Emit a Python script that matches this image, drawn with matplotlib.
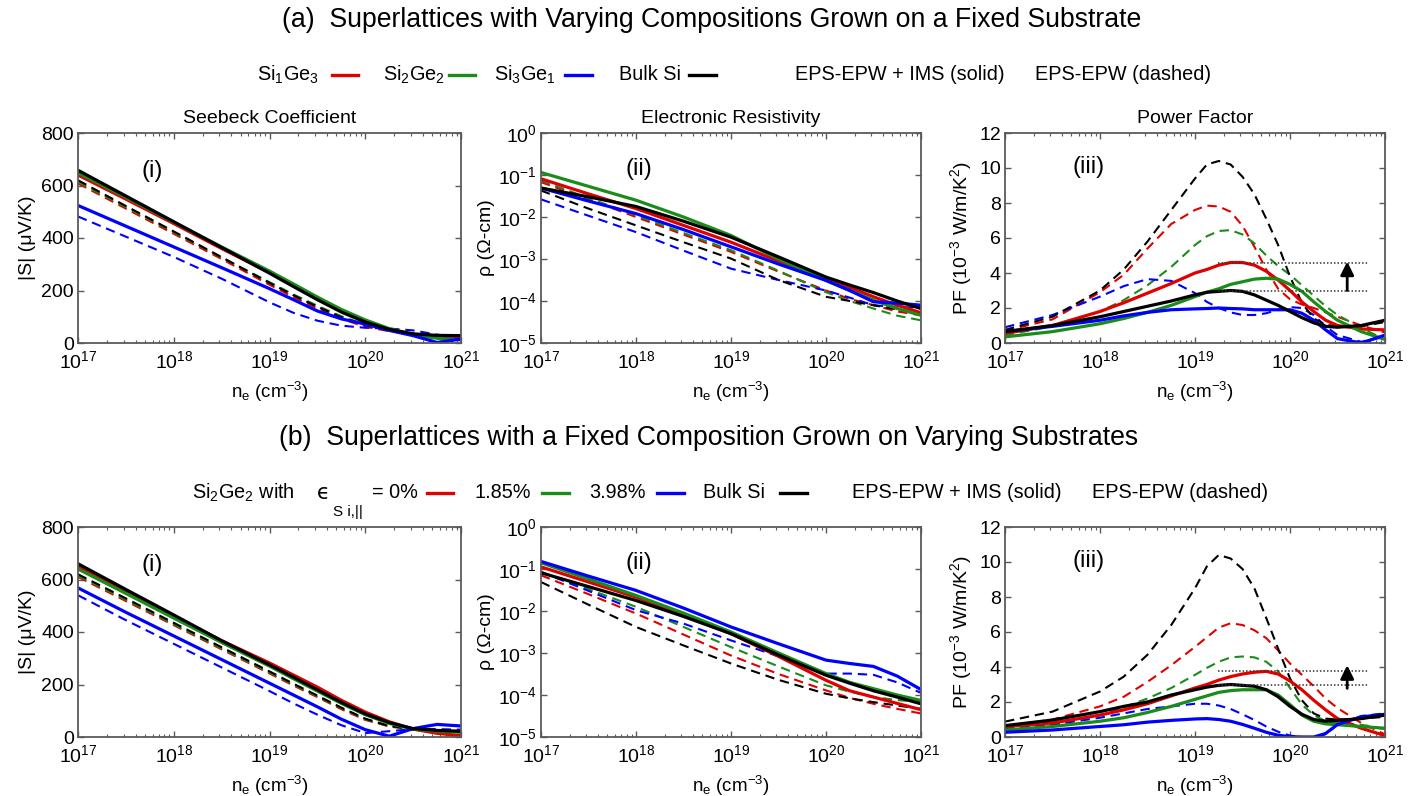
#!/usr/bin/env python

"""
Seebeck coefficient, resistivity and power factor of Si/Ge superlattices
vs electron concentration (EPS-EPW + IMS solid, EPS-EPW dashed)
"""

import numpy as np
import matplotlib.pyplot as plt
from matplotlib.lines import Line2D
from matplotlib.ticker import LogLocator, NullFormatter, NullLocator, MultipleLocator

plt.rcParams['font.family'] = ['Liberation Sans', 'DejaVu Sans']
plt.rcParams['mathtext.fontset'] = 'custom'
plt.rcParams['mathtext.rm'] = 'Liberation Sans'
plt.rcParams['mathtext.it'] = 'Liberation Sans:italic'
plt.rcParams['mathtext.default'] = 'regular'

# log10 of n_e (cm^-3) at which values were read
log_ne_s = [17, 17.5, 18, 18.5, 19, 19.25, 19.5, 19.75, 20, 20.25, 20.5, 20.75, 21]
log_ne_rho = [17, 17.5, 18, 18.5, 19, 19.5, 20, 20.25, 20.5, 20.75, 21]
log_ne_pf = [17, 17.5, 18, 18.25, 18.5, 18.75, 19, 19.125, 19.25, 19.375, 19.5,
             19.625, 19.75, 19.875, 20, 20.125, 20.25, 20.375, 20.5, 20.75, 21]

# series order in every list below: red, green, blue, black
a_labels = ["Si$_1$Ge$_3$", "Si$_2$Ge$_2$", "Si$_3$Ge$_1$", "Bulk Si"]
b_labels = ["= 0%", "1.85%", "3.98%", "Bulk Si"]

# (a) Seebeck |S| (uV/K)
a_seebeck_solid = [
    [640, 548, 455, 360, 268, 218, 168, 122, 82, 50, 32, 22, 18],
    [648, 555, 460, 366, 274, 225, 175, 128, 88, 55, 32, 18, 12],
    [524, 445, 366, 287, 207, 165, 122, 92, 72, 48, 28, 2, 15],
    [658, 560, 462, 364, 266, 215, 165, 118, 80, 52, 35, 29, 28],
]
a_seebeck_dashed = [
    [608, 512, 416, 320, 222, 175, 132, 92, 62, 45, 35, 28, 22],
    [614, 518, 422, 326, 232, 185, 142, 102, 70, 48, 32, 22, 15],
    [482, 405, 328, 245, 155, 115, 85, 66, 58, 55, 48, 32, 20],
    [620, 522, 425, 327, 229, 182, 138, 98, 68, 48, 35, 29, 27],
]

# (a) resistivity, log10(rho / Ohm-cm)
a_log_rho_solid = [
    [-1.09, -1.45, -1.80, -2.20, -2.60, -3.05, -3.45, -3.68, -3.90, -4.10, -4.28],
    [-0.94, -1.27, -1.60, -2.00, -2.44, -3.00, -3.51, -3.75, -3.98, -4.18, -4.34],
    [-1.31, -1.62, -1.92, -2.30, -2.71, -3.12, -3.51, -3.75, -4.02, -4.05, -4.10],
    [-1.31, -1.52, -1.75, -2.10, -2.48, -2.95, -3.43, -3.62, -3.80, -4.00, -4.18],
]
a_log_rho_dashed = [
    [-1.17, -1.58, -2.00, -2.42, -2.83, -3.30, -3.75, -3.95, -4.10, -4.25, -4.34],
    [-1.13, -1.55, -1.96, -2.38, -2.79, -3.28, -3.79, -4.00, -4.18, -4.35, -4.46],
    [-1.58, -1.97, -2.36, -2.80, -3.23, -3.50, -3.75, -3.92, -4.10, -4.15, -4.15],
    [-1.37, -1.80, -2.20, -2.60, -2.99, -3.50, -3.90, -4.00, -4.10, -4.20, -4.30],
]

# (a) power factor (1e-3 W/m/K^2)
a_pf_solid = [
    [0.55, 1.0, 1.8, 2.3, 2.85, 3.4, 4.0, 4.2, 4.45, 4.6, 4.6, 4.45, 4.1, 3.6,
     3.0, 2.35, 1.8, 1.3, 1.0, 0.8, 0.75],
    [0.35, 0.65, 1.1, 1.4, 1.75, 2.15, 2.65, 2.9, 3.1, 3.35, 3.5, 3.65, 3.7,
     3.65, 3.35, 2.95, 2.35, 1.8, 1.3, 0.65, 0.2],
    [0.65, 0.95, 1.3, 1.55, 1.75, 1.9, 1.95, 1.97, 2.0, 1.97, 1.95, 1.9, 1.9,
     1.9, 1.9, 1.7, 1.3, 0.75, 0.25, 0.0, 0.45],
    [0.65, 1.0, 1.5, 1.8, 2.1, 2.4, 2.75, 2.9, 2.95, 3.0, 2.95, 2.75, 2.45,
     2.15, 1.8, 1.45, 1.15, 0.95, 0.9, 1.0, 1.3],
]
a_pf_dashed = [
    [0.7, 1.35, 2.9, 3.9, 5.4, 6.8, 7.6, 7.85, 7.8, 7.5, 6.7, 5.5, 4.2, 3.1,
     2.5, 2.2, 2.0, 1.75, 1.5, 1.0, 0.6],
    [0.45, 0.95, 1.8, 2.45, 3.3, 4.35, 5.6, 6.1, 6.4, 6.45, 6.2, 5.7, 5.0, 4.4,
     3.9, 3.3, 2.7, 2.1, 1.6, 0.85, 0.2],
    [0.9, 1.6, 2.65, 3.25, 3.65, 3.55, 2.85, 2.35, 2.0, 1.75, 1.6, 1.6, 1.7,
     1.9, 2.05, 2.0, 1.6, 0.95, 0.45, 0.07, 0.35],
    [0.75, 1.5, 3.0, 4.2, 5.8, 7.6, 9.4, 10.2, 10.4, 10.2, 9.5, 8.5, 7.1, 5.6,
     3.8, 2.3, 1.4, 1.05, 0.95, 0.95, 1.2],
]
a_pf_levels = [3.0, 4.6]
a_arrow = [3.0, 4.65]

# (b) Seebeck |S| (uV/K)
b_seebeck_solid = [
    [650, 555, 460, 367, 282, 236, 190, 140, 95, 58, 30, 14, 5],
    [640, 547, 453, 360, 270, 222, 175, 128, 85, 52, 30, 22, 18],
    [568, 475, 385, 295, 205, 160, 115, 68, 28, 3, 32, 48, 42],
    [660, 562, 465, 367, 275, 228, 180, 132, 88, 55, 32, 25, 22],
]
b_seebeck_dashed = [
    [610, 518, 426, 334, 242, 196, 152, 106, 65, 40, 28, 22, 18],
    [615, 523, 430, 338, 246, 200, 155, 110, 68, 42, 30, 24, 20],
    [540, 445, 355, 265, 175, 128, 85, 45, 15, 22, 30, 30, 28],
    [620, 528, 435, 342, 250, 203, 158, 112, 70, 42, 30, 25, 22],
]

# (b) resistivity, log10(rho / Ohm-cm)
b_log_rho_solid = [
    [-0.95, -1.31, -1.67, -2.10, -2.54, -3.08, -3.65, -3.90, -4.05, -4.20, -4.35],
    [-0.85, -1.24, -1.63, -2.05, -2.50, -3.00, -3.49, -3.70, -3.85, -4.00, -4.13],
    [-0.82, -1.17, -1.51, -1.93, -2.38, -2.78, -3.17, -3.25, -3.32, -3.55, -3.87],
    [-1.09, -1.42, -1.75, -2.13, -2.54, -3.05, -3.53, -3.72, -3.90, -4.05, -4.21],
]
b_log_rho_dashed = [
    [-1.15, -1.60, -2.06, -2.56, -3.06, -3.50, -3.89, -4.07, -4.21, -4.33, -4.44],
    [-1.07, -1.48, -1.90, -2.38, -2.86, -3.32, -3.77, -3.92, -4.05, -4.12, -4.17],
    [-1.07, -1.52, -1.98, -2.30, -2.70, -3.08, -3.49, -3.49, -3.52, -3.70, -3.95],
    [-1.31, -1.85, -2.38, -2.82, -3.25, -3.64, -3.97, -4.08, -4.17, -4.25, -4.33],
]

# (b) power factor (1e-3 W/m/K^2)
b_pf_solid = [
    [0.6, 0.8, 1.25, 1.55, 1.9, 2.35, 2.8, 3.0, 3.25, 3.45, 3.6, 3.7, 3.75,
     3.6, 3.2, 2.7, 2.1, 1.55, 1.05, 0.5, 0.08],
    [0.4, 0.6, 0.9, 1.1, 1.4, 1.75, 2.15, 2.35, 2.55, 2.65, 2.7, 2.7, 2.7,
     2.4, 1.85, 1.25, 0.9, 0.75, 0.7, 0.6, 0.5],
    [0.27, 0.4, 0.6, 0.7, 0.85, 0.95, 1.03, 1.05, 1.0, 0.9, 0.72, 0.5, 0.27,
     0.1, 0.02, 0.0, 0.0, 0.2, 0.72, 1.15, 1.3],
    [0.65, 0.97, 1.45, 1.75, 2.0, 2.4, 2.7, 2.85, 2.95, 3.0, 2.95, 2.9, 2.7,
     2.3, 1.75, 1.3, 1.0, 0.9, 0.95, 1.05, 1.25],
]
b_pf_dashed = [
    [0.6, 1.0, 1.75, 2.3, 3.15, 4.1, 5.15, 5.7, 6.25, 6.5, 6.4, 6.1, 5.65,
     4.95, 4.2, 3.55, 2.9, 2.2, 1.65, 0.8, 0.15],
    [0.5, 0.7, 1.25, 1.7, 2.2, 2.8, 3.55, 3.95, 4.3, 4.55, 4.6, 4.55, 4.3,
     3.75, 2.8, 1.85, 1.25, 0.9, 0.8, 0.7, 0.45],
    [0.45, 0.7, 1.1, 1.35, 1.6, 1.75, 1.9, 1.9, 1.8, 1.6, 1.3, 0.97, 0.6,
     0.3, 0.08, 0.0, 0.0, 0.15, 0.7, 1.2, 1.35],
    [0.88, 1.45, 2.6, 3.45, 4.7, 6.4, 8.5, 9.75, 10.4, 10.2, 9.6, 8.5, 6.8,
     5.05, 3.35, 2.1, 1.35, 1.05, 1.0, 1.05, 1.15],
]
b_pf_levels = [3.0, 3.75]
b_arrow = [2.78, 4.1]

colors = ["#e00000", "#1a8c1a", "#0000ff", "#000000"]
spine_col = "#5a5a5a"


def main():

    fig = plt.figure(figsize=(14.2, 7.96), dpi=100)

    W, H = 1420.0, 796.0
    cols = [(78, 461), (541, 921), (1005, 1385)]
    rows = [(133, 343), (527, 737)]

    x_s = 10.0 ** np.array(log_ne_s)
    x_r = 10.0 ** np.array(log_ne_rho)
    x_p = 10.0 ** np.array(log_ne_pf)

    panels = [
        (a_seebeck_solid, a_seebeck_dashed, a_log_rho_solid, a_log_rho_dashed,
         a_pf_solid, a_pf_dashed, a_pf_levels, a_arrow),
        (b_seebeck_solid, b_seebeck_dashed, b_log_rho_solid, b_log_rho_dashed,
         b_pf_solid, b_pf_dashed, b_pf_levels, b_arrow),
    ]

    for r, (top, bot) in enumerate(rows):
        S_s, S_d, R_s, R_d, P_s, P_d, levels, arrow = panels[r]
        axes = []
        for (left, right) in cols:
            ax = fig.add_axes([left / W, 1 - bot / H, (right - left) / W,
                               (bot - top) / H])
            axes.append(ax)

        # Seebeck
        ax = axes[0]
        draw_series(ax, x_s, S_s, S_d)
        ax.set_ylim(0, 800)
        ax.yaxis.set_major_locator(MultipleLocator(200))
        ax.set_ylabel("|S| (\u03bcV/K)", fontsize=14, labelpad=4)
        ax.text(0.195, 0.82, "(i)", transform=ax.transAxes, fontsize=17,
                ha="center", va="center")

        # resistivity
        ax = axes[1]
        draw_series(ax, x_r, [10.0 ** np.array(v) for v in R_s],
                    [10.0 ** np.array(v) for v in R_d])
        ax.set_yscale("log")
        ax.set_ylim(1e-5, 1e0)
        ax.yaxis.set_major_locator(LogLocator(base=10, numticks=10))
        ax.yaxis.set_minor_locator(NullLocator())
        ax.set_ylabel("\u03c1 (\u03a9-cm)", fontsize=14, labelpad=2)
        ax.text(0.258, 0.83, "(ii)", transform=ax.transAxes, fontsize=17,
                ha="center", va="center")

        # power factor
        ax = axes[2]
        draw_series(ax, x_p, P_s, P_d)
        ax.set_ylim(0, 12)
        ax.yaxis.set_major_locator(MultipleLocator(2))
        ax.set_ylabel("PF (10$^{-3}$ W/m/K$^2$)", fontsize=14, labelpad=4)
        ax.text(0.22, 0.838, "(iii)", transform=ax.transAxes, fontsize=17,
                ha="center", va="center")
        for lev in levels:
            ax.plot([1.75e19, 6.6e20], [lev, lev], color="#333333", lw=1.1,
                    ls=(0, (1, 1.3)))
        ax.annotate("", xy=(4.0e20, arrow[1]), xytext=(4.0e20, arrow[0]),
                    arrowprops=dict(arrowstyle="-|>", color="k", lw=2,
                                    mutation_scale=20, shrinkA=0, shrinkB=0))

        for ax in axes:
            style_axes(ax)

        if r == 0:
            axes[0].set_title("Seebeck Coefficient", fontsize=14, pad=7)
            axes[1].set_title("Electronic Resistivity", fontsize=14, pad=7)
            axes[2].set_title("Power Factor", fontsize=14, pad=7)

    # headings
    fig.text(712 / W, 1 - 20 / H,
             "(a)  Superlattices with Varying Compositions Grown on a Fixed Substrate",
             ha="center", va="center", fontsize=19.2)
    fig.text(709 / W, 1 - 438 / H,
             "(b)  Superlattices with a Fixed Composition Grown on Varying Substrates",
             ha="center", va="center", fontsize=19.2)

    # legend rows drawn by hand
    fs = 14.3
    y_a = 1 - 75 / H
    a_text_x = [257, 383, 494, 619]
    a_line_x = [(332, 358), (449, 475), (565, 592), (689, 716)]
    for lab, tx, (l0, l1), c in zip(a_labels, a_text_x, a_line_x, colors):
        fig.text(tx / W, y_a, lab, ha="left", va="center", fontsize=fs)
        fig.add_artist(Line2D([l0 / W, l1 / W], [y_a, y_a], color=c, lw=2.4,
                              transform=fig.transFigure))
    fig.text(795 / W, y_a, "EPS-EPW + IMS (solid)", ha="left", va="center",
             fontsize=fs)
    fig.text(1035 / W, y_a, "EPS-EPW (dashed)", ha="left", va="center",
             fontsize=fs)

    y_b = 1 - 493 / H
    fig.text(192 / W, y_b, "Si$_2$Ge$_2$ with", ha="left", va="center",
             fontsize=fs)
    fig.text(317 / W, y_b, "\u03f5", ha="left", va="center", fontsize=fs + 1,
             family=["DejaVu Sans"])
    fig.text(333 / W, 1 - 512 / H, "S i,||", ha="left", va="center",
             fontsize=11)
    b_text_x = [372, 474, 589, 703]
    b_line_x = [(427, 453), (542, 569), (657, 684), (780, 807)]
    for lab, tx, (l0, l1), c in zip(b_labels, b_text_x, b_line_x, colors):
        fig.text(tx / W, y_b, lab, ha="left", va="center", fontsize=fs)
        fig.add_artist(Line2D([l0 / W, l1 / W], [y_b, y_b], color=c, lw=2.4,
                              transform=fig.transFigure))
    fig.text(852 / W, y_b, "EPS-EPW + IMS (solid)", ha="left", va="center",
             fontsize=fs)
    fig.text(1092 / W, y_b, "EPS-EPW (dashed)", ha="left", va="center",
             fontsize=fs)

    fig.savefig("out.png", dpi=100)


def draw_series(ax, x, solid, dashed):

    for c, yd in zip(colors, dashed):
        ax.plot(x, yd, color=c, lw=1.5, ls=(0, (4.5, 2.8)))
    for c, ys in zip(colors, solid):
        ax.plot(x, ys, color=c, lw=2.3)


def style_axes(ax):

    ax.set_xscale("log")
    ax.set_xlim(1e17, 1e21)
    ax.xaxis.set_major_locator(LogLocator(base=10, numticks=10))
    ax.xaxis.set_minor_locator(LogLocator(base=10, subs=np.arange(2, 10),
                                          numticks=40))
    ax.xaxis.set_minor_formatter(NullFormatter())
    ax.set_xlabel("n$_e$ (cm$^{-3}$)", fontsize=13.5, labelpad=6)
    ax.tick_params(which="both", direction="in", top=True, right=True,
                   color=spine_col, labelsize=14)
    ax.tick_params(which="major", length=4, width=1)
    ax.tick_params(which="minor", length=2.5, width=0.8)
    ax.tick_params(axis="x", pad=5)
    ax.tick_params(axis="y", pad=3)
    for s in ax.spines.values():
        s.set_color(spine_col)
        s.set_linewidth(1.3)


if __name__ == "__main__":

    main()
